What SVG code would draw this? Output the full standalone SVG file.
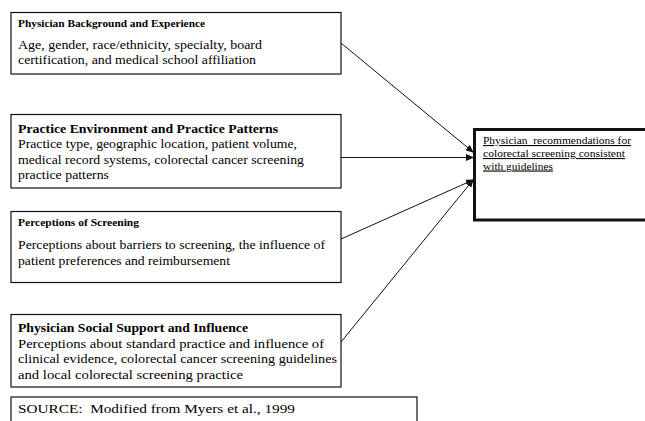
<svg xmlns="http://www.w3.org/2000/svg" width="645" height="421" viewBox="0 0 645 421" font-family="'Liberation Serif', 'DejaVu Serif', serif">
<style>
.box{fill:#fff;stroke:#111;stroke-width:1.2}
.tbox{fill:#fff;stroke:#111;stroke-width:3}
text{font-family:"Liberation Serif","DejaVu Serif",serif;fill:#000}
.ts{font-size:10.5px;font-weight:bold}
.tl{font-size:13.5px;font-weight:bold}
.b{font-size:13.5px}
.u{font-size:11px;text-decoration:underline}
.c{stroke:#111;stroke-width:1;fill:none;marker-end:url(#ah)}
</style>
<defs>
<marker id="ah" markerWidth="8" markerHeight="7" refX="7" refY="3.5" orient="auto" markerUnits="userSpaceOnUse">
<path d="M0,0 L8,3.5 L0,7 Z" fill="#111"/>
</marker>
</defs>
<rect width="645" height="421" fill="#fff"/>
<g id="n1">
<rect class="box" x="11" y="12.5" width="330" height="61.5"/>
<text class="ts" x="18" y="26.5" textLength="187" lengthAdjust="spacingAndGlyphs">Physician Background and Experience</text>
<text class="b" x="18" y="49" textLength="244" lengthAdjust="spacingAndGlyphs">Age, gender, race/ethnicity, specialty, board</text>
<text class="b" x="18" y="64" textLength="238" lengthAdjust="spacingAndGlyphs">certification, and medical school affiliation</text>
</g>
<g id="n2">
<rect class="box" x="11" y="114.5" width="330" height="73.5"/>
<text class="tl" x="18" y="132.5" textLength="260" lengthAdjust="spacingAndGlyphs">Practice Environment and Practice Patterns</text>
<text class="b" x="18" y="148" textLength="279" lengthAdjust="spacingAndGlyphs">Practice type, geographic location, patient volume,</text>
<text class="b" x="18" y="163.5" textLength="286" lengthAdjust="spacingAndGlyphs">medical record systems, colorectal cancer screening</text>
<text class="b" x="18" y="179" textLength="91" lengthAdjust="spacingAndGlyphs">practice patterns</text>
</g>
<g id="n3">
<rect class="box" x="11" y="211.5" width="330" height="71"/>
<text class="ts" x="18" y="226" textLength="121" lengthAdjust="spacingAndGlyphs">Perceptions of Screening</text>
<text class="b" x="18" y="249" textLength="307" lengthAdjust="spacingAndGlyphs">Perceptions about barriers to screening, the influence of</text>
<text class="b" x="18" y="265" textLength="212" lengthAdjust="spacingAndGlyphs">patient preferences and reimbursement</text>
</g>
<g id="n4">
<rect class="box" x="11" y="314.5" width="330" height="72.5"/>
<text class="tl" x="18" y="332" textLength="230" lengthAdjust="spacingAndGlyphs">Physician Social Support and Influence</text>
<text class="b" x="18" y="347.5" textLength="306" lengthAdjust="spacingAndGlyphs">Perceptions about standard practice and influence of</text>
<text class="b" x="18" y="363" textLength="319" lengthAdjust="spacingAndGlyphs">clinical evidence, colorectal cancer screening guidelines</text>
<text class="b" x="18" y="378.5" textLength="225" lengthAdjust="spacingAndGlyphs">and local colorectal screening practice</text>
</g>
<g id="source">
<rect class="box" x="11" y="397" width="406" height="30"/>
<text class="b" x="18" y="413" textLength="277" lengthAdjust="spacingAndGlyphs" xml:space="preserve">SOURCE:  Modified from Myers et al., 1999</text>
</g>
<g id="target">
<rect class="tbox" x="474.5" y="129.5" width="180" height="90.5"/>
<text class="u" x="483" y="144" textLength="148" lengthAdjust="spacingAndGlyphs" xml:space="preserve">Physician  recommendations for</text>
<text class="u" x="483" y="157" textLength="142" lengthAdjust="spacingAndGlyphs">colorectal screening consistent</text>
<text class="u" x="483" y="169.5" textLength="70" lengthAdjust="spacingAndGlyphs">with guidelines</text>
</g>
<g id="connectors">
<line class="c" x1="341" y1="43" x2="473" y2="152"/>
<line class="c" x1="341" y1="157.5" x2="473" y2="157.5"/>
<line class="c" x1="341" y1="239" x2="473" y2="180"/>
<line class="c" x1="341" y1="342" x2="473" y2="180"/>
</g>
</svg>
